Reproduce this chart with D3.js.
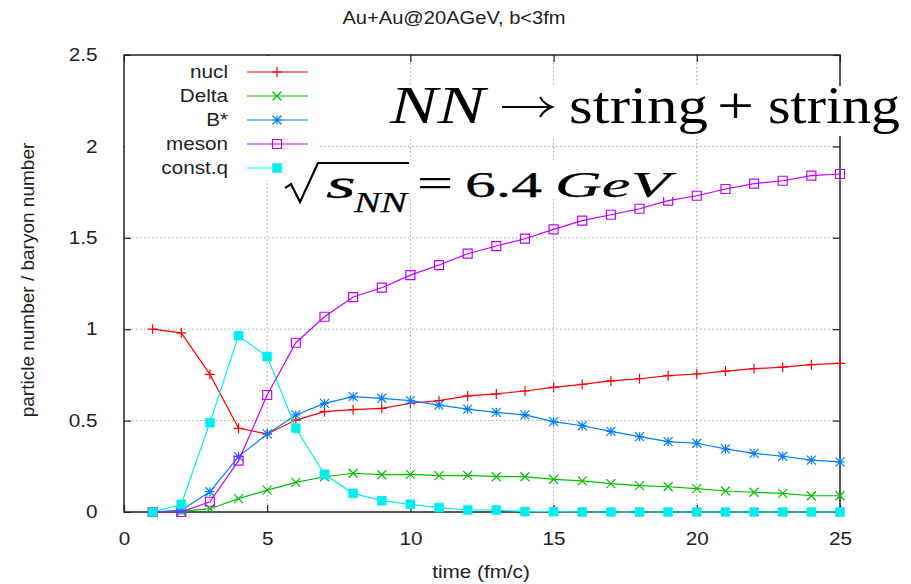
<!DOCTYPE html>
<html>
<head>
<meta charset="utf-8">
<script src="https://cdn.jsdelivr.net/npm/d3@7"></script>
<style>
  body { margin: 0; background: #fff; }
  svg { display: block; }
  text { font-family: "Liberation Sans", Arial, sans-serif; fill: #222; }
  .tex text { font-family: "Liberation Serif", "Times New Roman", serif; fill: #000; }
</style>
</head>
<body>
<div id="chart"></div>
<script>
const svgWidth = 911;
const svgHeight = 584;
const plotLeft = 124, plotRight = 840, plotTop = 55, plotBottom = 512;
const textStretch = 1.15;   // gnuplot output was widened, so glyphs are too

// time steps (fm/c)
const times = [1, 2, 3, 4, 5, 6, 7, 8, 9, 10, 11, 12, 13, 14, 15, 16, 17, 18, 19, 20, 21, 22, 23, 24, 25];

// particle number / baryon number per species
const nucl = [1.00, 0.98, 0.753, 0.458, 0.427, 0.503, 0.549, 0.560, 0.567, 0.595, 0.609, 0.635, 0.646,
  0.662, 0.682, 0.698, 0.717, 0.729, 0.746, 0.755, 0.771, 0.784, 0.792, 0.806, 0.813];
const delta = [0.0, 0.003, 0.018, 0.073, 0.120, 0.162, 0.193, 0.212, 0.204, 0.206, 0.199, 0.200, 0.193,
  0.193, 0.179, 0.170, 0.155, 0.144, 0.138, 0.128, 0.115, 0.108, 0.102, 0.089, 0.089];
const bstar = [0.0, 0.010, 0.111, 0.303, 0.427, 0.531, 0.594, 0.631, 0.622, 0.609, 0.585, 0.563, 0.545,
  0.531, 0.494, 0.472, 0.441, 0.412, 0.385, 0.376, 0.345, 0.321, 0.305, 0.284, 0.274];
const meson = [0.0, 0.0, 0.056, 0.281, 0.640, 0.926, 1.068, 1.176, 1.227, 1.296, 1.351, 1.413, 1.455,
  1.495, 1.546, 1.594, 1.626, 1.659, 1.703, 1.730, 1.767, 1.796, 1.812, 1.840, 1.849];
const constq = [0.0, 0.042, 0.489, 0.965, 0.850, 0.458, 0.206, 0.102, 0.062, 0.042, 0.024, 0.011, 0.011,
  0.002, 0.002, 0.0, 0.0, 0.0, 0.0, 0.0, 0.0, 0.0, 0.0, 0.0, 0.0];

const seriesNames = ["nucl", "Delta", "B*", "meson", "const.q"];
const seriesColors = ["#ff0000", "#00c000", "#0080ff", "#c000ff", "#00eeee"];
const seriesMarkers = ["plus", "cross", "star", "box", "filledbox"];
const seriesValues = [nucl, delta, bstar, meson, constq];

const xTicks = [0, 5, 10, 15, 20, 25];
const yTicks = [0, 0.5, 1, 1.5, 2, 2.5];

const xScale = d3.scaleLinear().domain([0, 25]).range([plotLeft, plotRight]);
const yScale = d3.scaleLinear().domain([0, 2.5]).range([plotBottom, plotTop]);

const svg = d3.select("#chart").append("svg")
    .attr("width", svgWidth)
    .attr("height", svgHeight);

// gnuplot point types
function markerPath(type, h) {
    const plus = `M${-h},0H${h}M0,${-h}V${h}`;
    const cross = `M${-h},${-h}L${h},${h}M${-h},${h}L${h},${-h}`;
    if (type === "plus") return plus;
    if (type === "cross") return cross;
    if (type === "star") return plus + cross;
    return `M${-h},${-h}H${h}V${h}H${-h}Z`;
}

function drawMarker(g, type, color) {
    const h = type === "plus" ? 5 : 4.5;
    g.append("path")
        .attr("d", markerPath(type, h))
        .attr("fill", type === "filledbox" ? color : "none")
        .attr("stroke", color)
        .attr("stroke-width", type === "filledbox" ? 0.5 : 1.2);
}

// grid
const grid = svg.append("g")
    .attr("stroke", "#a0a0a0")
    .attr("stroke-width", 1)
    .attr("stroke-dasharray", "1.5,2.5");
grid.selectAll("line.gx")
    .data(xTicks.slice(1, -1))
    .enter().append("line")
    .attr("x1", d => xScale(d)).attr("x2", d => xScale(d))
    .attr("y1", plotTop).attr("y2", plotBottom);
grid.selectAll("line.gy")
    .data(yTicks.slice(1, -1))
    .enter().append("line")
    .attr("x1", plotLeft).attr("x2", plotRight)
    .attr("y1", d => yScale(d)).attr("y2", d => yScale(d));

// axes with inward ticks, mirrored on top and right
function styleAxis(g) {
    g.select(".domain").remove();
    g.selectAll(".tick line").attr("stroke", "#222").attr("stroke-width", 1.2);
    g.selectAll(".tick text")
        .attr("font-size", 18)
        .attr("fill", "#222")
        .attr("transform", `scale(${textStretch},1)`);
}

const xAxis = d3.axisBottom(xScale).tickValues(xTicks).tickFormat(d3.format("")).tickSize(-7).tickPadding(20);
const yAxis = d3.axisLeft(yScale).tickValues(yTicks).tickFormat(d3.format("")).tickSize(-7).tickPadding(23);

svg.append("g")
    .attr("transform", `translate(0,${plotBottom})`)
    .call(xAxis)
    .call(styleAxis);
svg.append("g")
    .attr("transform", `translate(${plotLeft},0)`)
    .call(yAxis)
    .call(styleAxis);
svg.append("g")
    .attr("transform", `translate(0,${plotTop})`)
    .call(d3.axisTop(xScale).tickValues(xTicks).tickFormat("").tickSize(-7))
    .call(styleAxis);
svg.append("g")
    .attr("transform", `translate(${plotRight},0)`)
    .call(d3.axisRight(yScale).tickValues(yTicks).tickFormat("").tickSize(-7))
    .call(styleAxis);

// frame
svg.append("rect")
    .attr("x", plotLeft).attr("y", plotTop)
    .attr("width", plotRight - plotLeft).attr("height", plotBottom - plotTop)
    .attr("fill", "none").attr("stroke", "#222").attr("stroke-width", 1.5);

// curves
const line = d3.line()
    .x((d, i) => xScale(times[i]))
    .y(d => yScale(d));

seriesValues.forEach((values, k) => {
    const g = svg.append("g").attr("class", "series");
    g.append("path")
        .datum(values)
        .attr("d", line)
        .attr("fill", "none")
        .attr("stroke", seriesColors[k])
        .attr("stroke-width", 1.2);
    g.selectAll("g.pt")
        .data(values)
        .enter().append("g")
        .attr("class", "pt")
        .attr("transform", (d, i) => `translate(${xScale(times[i])},${yScale(d)})`)
        .each(function () { drawMarker(d3.select(this), seriesMarkers[k], seriesColors[k]); });
});

// key (opaque)
const key = svg.append("g");
key.append("rect")
    .attr("x", plotLeft + 1).attr("y", plotTop + 1)
    .attr("width", 194).attr("height", 124)
    .attr("fill", "#fff");
seriesNames.forEach((name, k) => {
    const yRow = 72 + k * 24;
    key.append("g")
        .attr("transform", `translate(228,${yRow})`)
        .append("text")
        .attr("transform", `scale(${textStretch},1)`)
        .attr("text-anchor", "end")
        .attr("dy", "0.35em")
        .attr("font-size", 18)
        .text(name);
    key.append("line")
        .attr("x1", 247).attr("x2", 308)
        .attr("y1", yRow).attr("y2", yRow)
        .attr("stroke", seriesColors[k])
        .attr("stroke-width", 1.2);
    drawMarker(key.append("g").attr("transform", `translate(277,${yRow})`), seriesMarkers[k], seriesColors[k]);
});

// title and axis labels
svg.append("g")
    .attr("transform", "translate(454,24)")
    .append("text")
    .attr("transform", `scale(${textStretch},1)`)
    .attr("text-anchor", "middle")
    .attr("font-size", 17.5)
    .text("Au+Au@20AGeV, b<3fm");
svg.append("g")
    .attr("transform", "translate(481,578)")
    .append("text")
    .attr("transform", `scale(${textStretch},1)`)
    .attr("text-anchor", "middle")
    .attr("font-size", 18)
    .text("time (fm/c)");
svg.append("g")
    .attr("transform", "translate(34,280) rotate(-90)")
    .append("text")
    .attr("text-anchor", "middle")
    .attr("font-size", 19)
    .text("particle number / baryon number");

// reaction labels
const tex = svg.append("g").attr("class", "tex");

tex.append("rect").attr("x", 384).attr("y", 86).attr("width", 527).attr("height", 50).attr("fill", "#fff");
tex.append("text").attr("x", 390).attr("y", 123).attr("font-size", 52).attr("font-style", "italic")
    .attr("textLength", 95).attr("lengthAdjust", "spacingAndGlyphs").text("NN");
tex.append("path")
    .attr("d", "M502,107H551M540,97Q544,104 552,107Q544,110 540,117")
    .attr("fill", "none").attr("stroke", "#000").attr("stroke-width", 2);
tex.append("text").attr("x", 569).attr("y", 123).attr("font-size", 52)
    .attr("textLength", 139).attr("lengthAdjust", "spacingAndGlyphs").text("string");
tex.append("text").attr("x", 717).attr("y", 123).attr("font-size", 52)
    .attr("textLength", 37).attr("lengthAdjust", "spacingAndGlyphs").text("+");
tex.append("text").attr("x", 768).attr("y", 123).attr("font-size", 52)
    .attr("textLength", 132).attr("lengthAdjust", "spacingAndGlyphs").text("string");

tex.append("rect").attr("x", 283).attr("y", 160).attr("width", 390).attr("height", 37).attr("fill", "#fff");
tex.append("rect").attr("x", 350).attr("y", 196).attr("width", 60).attr("height", 18).attr("fill", "#fff");
tex.append("path")
    .attr("d", "M285,188L291,184L300,202L318,163H409")
    .attr("fill", "none").attr("stroke", "#000").attr("stroke-width", 2.2)
    .attr("stroke-linejoin", "miter");
const heavy = sel => sel.attr("stroke", "#000").attr("stroke-width", 0.25);
tex.append("text").attr("x", 326).attr("y", 198).attr("font-size", 40).attr("font-style", "italic")
    .attr("textLength", 30).attr("lengthAdjust", "spacingAndGlyphs").text("s").call(heavy);
tex.append("text").attr("x", 354).attr("y", 212).attr("font-size", 29).attr("font-style", "italic")
    .attr("textLength", 53).attr("lengthAdjust", "spacingAndGlyphs").text("NN").call(heavy);
tex.append("text").attr("x", 417).attr("y", 197).attr("font-size", 40)
    .attr("textLength", 36).attr("lengthAdjust", "spacingAndGlyphs").text("=").call(heavy);
tex.append("text").attr("x", 465).attr("y", 197).attr("font-size", 36)
    .attr("textLength", 77).attr("lengthAdjust", "spacingAndGlyphs").text("6.4").call(heavy);
tex.append("text").attr("x", 555).attr("y", 197).attr("font-size", 36).attr("font-style", "italic")
    .attr("textLength", 115).attr("lengthAdjust", "spacingAndGlyphs").text("GeV").call(heavy);
</script>
</body>
</html>
